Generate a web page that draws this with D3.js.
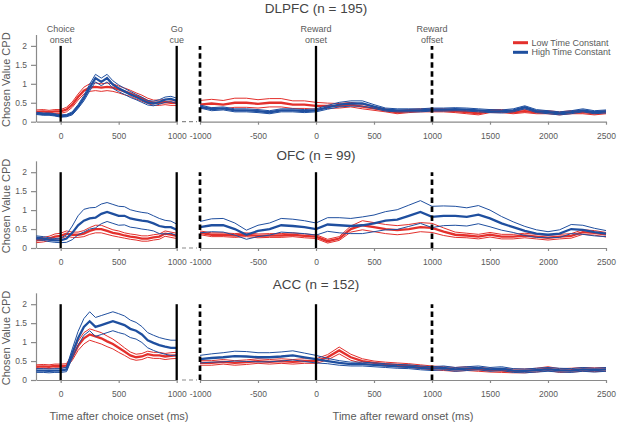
<!DOCTYPE html>
<html>
<head>
<meta charset="utf-8">
<script src="https://cdn.jsdelivr.net/npm/d3@7"></script>
<style>
    body { margin: 0; background: #fff; }
    svg text { font-family: Arial, "Liberation Sans", sans-serif; }
</style>
</head>
<body>
<svg id="chart" width="617" height="424"></svg>
<script>
// Sample times (ms)
const timesChoice = [-210, -150, -100, -50, 0, 50, 100, 150, 200, 250, 300, 350, 400, 450, 500,
    550, 600, 650, 700, 750, 800, 850, 900, 950, 1000];
const timesReward = [-1000, -900, -800, -700, -600, -500, -400, -300, -200, -100, 0,
    100, 200, 300, 400, 500, 600, 700, 800, 900, 1000,
    1100, 1200, 1300, 1400, 1500, 1600, 1700, 1800, 1900, 2000,
    2100, 2200, 2300, 2400, 2500];

const areas = ["DLPFC (n = 195)", "OFC (n = 99)", "ACC (n = 152)"];
const seriesNames = ["Low Time Constant", "High Time Constant"];
const yTicks = [0, 0.5, 1, 1.5, 2];
const choiceTicks = [0, 500, 1000];
const rewardTicks = [-1000, -500, 0, 500, 1000, 1500, 2000, 2500];

// DLPFC, aligned to choice onset
const dlpfcChoiceLow = [.26, .27, .25, .27, .27, .32, .45, .65, .82, .9, .92, .9, .92, .9, .85,
    .8, .75, .68, .62, .55, .5, .5, .52, .5, .5];
const dlpfcChoiceLowSE = [.05, .05, .05, .05, .05, .06, .07, .08, .09, .1, .1, .1, .1, .1, .09,
    .09, .08, .08, .08, .07, .07, .07, .07, .07, .07];
const dlpfcChoiceHigh = [.22, .2, .2, .18, .15, .16, .22, .4, .62, .9, 1.15, 1.05, 1.15, .98, .88,
    .8, .72, .65, .58, .5, .48, .52, .58, .6, .55];
const dlpfcChoiceHighSE = [.03, .03, .03, .03, .03, .03, .04, .05, .07, .09, .1, .1, .1, .1, .09,
    .08, .08, .07, .07, .06, .06, .06, .07, .07, .07];

// DLPFC, aligned to reward onset
const dlpfcRewardLow = [.45, .48, .45, .5, .5, .47, .5, .5, .45, .45, .42,
    .42, .42, .45, .4, .35, .3, .25, .28, .3, .3,
    .3, .28, .25, .22, .28, .28, .25, .28, .25, .25,
    .22, .25, .25, .22, .25];
const dlpfcRewardLowSE = [.11, .11, .11, .12, .12, .11, .11, .11, .1, .1, .09,
    .07, .06, .06, .06, .05, .04, .04, .04, .04, .04,
    .04, .04, .04, .04, .04, .04, .04, .04, .04, .04,
    .04, .04, .04, .04, .04];
const dlpfcRewardHigh = [.4, .33, .35, .3, .3, .28, .25, .3, .3, .28, .3,
    .38, .45, .48, .48, .4, .32, .3, .3, .3, .32,
    .32, .33, .32, .3, .28, .27, .3, .38, .28, .25,
    .22, .25, .3, .25, .27];
const dlpfcRewardHighSE = [.04, .04, .04, .04, .04, .04, .04, .04, .04, .04, .04,
    .05, .06, .07, .07, .05, .04, .04, .04, .04, .04,
    .04, .04, .04, .04, .04, .04, .04, .04, .04, .04,
    .04, .04, .04, .04, .04];

// OFC, aligned to choice onset
const ofcChoiceLow = [.2, .22, .25, .3, .32, .38, .35, .35, .38, .45, .5, .5, .45, .4, .37,
    .33, .3, .28, .25, .25, .28, .3, .38, .35, .32];
const ofcChoiceLowSE = [.06, .06, .06, .07, .07, .07, .07, .07, .08, .09, .1, .1, .09, .08, .08,
    .07, .07, .07, .07, .07, .07, .07, .07, .07, .07];
const ofcChoiceHigh = [.27, .25, .22, .2, .2, .25, .4, .6, .72, .78, .8, .9, .95, .9, .85,
    .85, .78, .75, .72, .7, .65, .58, .55, .55, .48];
const ofcChoiceHighSE = [.05, .05, .05, .05, .06, .1, .18, .25, .3, .28, .27, .26, .25, .25, .25,
    .24, .23, .22, .22, .22, .2, .2, .18, .16, .15];

// OFC, aligned to reward onset
const ofcRewardLow = [.4, .35, .35, .33, .35, .32, .33, .33, .35, .32, .3,
    .18, .25, .5, .6, .55, .5, .47, .5, .55, .53,
    .43, .35, .33, .3, .35, .3, .3, .33, .3, .27,
    .3, .32, .42, .4, .35];
const ofcRewardLowSE = [.05, .05, .05, .05, .05, .05, .05, .05, .05, .05, .05,
    .05, .05, .08, .12, .12, .12, .12, .12, .12, .12,
    .1, .07, .06, .06, .06, .06, .06, .06, .06, .06,
    .06, .06, .06, .06, .06];
const ofcRewardHigh = [.55, .6, .6, .5, .35, .45, .5, .6, .58, .55, .5,
    .62, .6, .58, .6, .65, .72, .75, .85, .95, .82,
    .85, .85, .82, .88, .78, .65, .55, .45, .38, .35,
    .38, .5, .48, .42, .38];
const ofcRewardHighSE = [.15, .17, .18, .16, .12, .15, .16, .18, .18, .17, .16,
    .18, .2, .2, .22, .22, .24, .26, .28, .3, .28,
    .26, .25, .24, .24, .22, .18, .14, .12, .1, .08,
    .1, .12, .12, .1, .08];

// ACC, aligned to choice onset
const accChoiceLow = [.35, .36, .35, .37, .37, .38, .6, .9, 1.1, 1.2, 1.15, 1.1, 1.02, .95, .85,
    .75, .65, .6, .62, .68, .65, .65, .62, .64, .65];
const accChoiceLowSE = [.05, .05, .05, .05, .05, .05, .08, .12, .15, .15, .15, .15, .14, .13, .12,
    .1, .09, .08, .08, .08, .08, .08, .08, .08, .08];
const accChoiceHigh = [.25, .25, .24, .25, .25, .28, .7, 1.1, 1.4, 1.55, 1.4, 1.45, 1.5, 1.55, 1.5,
    1.45, 1.35, 1.3, 1.2, 1.05, .98, .92, .88, .85, .85];
const accChoiceHighSE = [.05, .05, .05, .05, .05, .06, .12, .18, .22, .25, .25, .25, .25, .25, .25,
    .24, .23, .22, .21, .2, .2, .2, .2, .2, .2];

// ACC, aligned to reward onset
const accRewardLow = [.45, .45, .48, .45, .47, .5, .48, .5, .48, .5, .5,
    .6, .78, .6, .5, .45, .42, .4, .38, .35, .32,
    .3, .28, .3, .28, .26, .25, .24, .24, .26, .3,
    .25, .26, .28, .27, .28];
const accRewardLowSE = [.06, .06, .06, .06, .06, .06, .06, .06, .06, .06, .06,
    .07, .09, .08, .06, .05, .05, .05, .05, .05, .05,
    .05, .05, .05, .05, .05, .05, .05, .05, .05, .05,
    .05, .05, .05, .05, .05];
const accRewardHigh = [.55, .58, .6, .63, .62, .6, .6, .62, .65, .6, .55,
    .5, .45, .42, .42, .4, .38, .36, .35, .32, .3,
    .32, .28, .3, .32, .28, .3, .25, .24, .26, .28,
    .26, .25, .28, .26, .28];
const accRewardHighSE = [.1, .11, .12, .13, .13, .12, .12, .12, .12, .11, .1,
    .07, .06, .05, .05, .05, .05, .05, .05, .05, .05,
    .05, .05, .05, .05, .05, .05, .05, .05, .05, .05,
    .05, .05, .05, .05, .05];

const choicePanels = [
    [[dlpfcChoiceLow, dlpfcChoiceLowSE], [dlpfcChoiceHigh, dlpfcChoiceHighSE]],
    [[ofcChoiceLow, ofcChoiceLowSE], [ofcChoiceHigh, ofcChoiceHighSE]],
    [[accChoiceLow, accChoiceLowSE], [accChoiceHigh, accChoiceHighSE]]
];
const rewardPanels = [
    [[dlpfcRewardLow, dlpfcRewardLowSE], [dlpfcRewardHigh, dlpfcRewardHighSE]],
    [[ofcRewardLow, ofcRewardLowSE], [ofcRewardHigh, ofcRewardHighSE]],
    [[accRewardLow, accRewardLowSE], [accRewardHigh, accRewardHighSE]]
];

const colors = ["#e3302c", "#1f4f9f"];
const axisColor = "#8a8a8a";
const textColor = "#5a5a5a";

const svg = d3.select("#chart");

// Layout
const rowZero = [121.7, 248, 380];
const titleY = [12.5, 160, 289];
const pxPerUnit = 37.9;
const yMax = 2.3;

const xChoice = d3.scaleLinear().domain([-210, 1000]).range([36.3, 176.7]);
const xReward = d3.scaleLinear().domain([-1000, 2500]).range([200, 606]);

function styleAxis(g) {
    g.select(".domain").attr("stroke", axisColor).attr("stroke-width", 1.2);
    g.selectAll(".tick line").attr("stroke", axisColor).attr("stroke-width", 1.2);
    g.selectAll(".tick text").attr("fill", textColor).style("font-size", "8.5px");
}

function drawSeries(g, x, y, times, mean, se, color) {
    const line = d3.line()
        .x((d, i) => x(times[i]))
        .y(d => y(d));

    const upper = mean.map((m, i) => m + se[i]);
    const lower = mean.map((m, i) => m - se[i]);

    [upper, lower].forEach(vals => {
        g.append("path")
            .attr("d", line(vals))
            .attr("fill", "none")
            .attr("stroke", color)
            .attr("stroke-width", 1);
    });

    g.append("path")
        .attr("d", line(mean))
        .attr("fill", "none")
        .attr("stroke", color)
        .attr("stroke-width", 2.3);
}

function eventLine(x, y, dashed) {
    svg.append("line")
        .attr("x1", x).attr("x2", x)
        .attr("y1", y(0)).attr("y2", y(2))
        .attr("stroke", "#000")
        .attr("stroke-width", dashed ? 2.7 : 2.3)
        .attr("stroke-dasharray", dashed ? "5.5,3.5" : null);
}

rowZero.forEach((y0, r) => {
    const y = d3.scaleLinear().domain([0, yMax]).range([y0, y0 - yMax * pxPerUnit]);

    // Y axis
    svg.append("g")
        .attr("transform", "translate(36,0)")
        .call(d3.axisLeft(y).tickValues(yTicks).tickSize(5).tickSizeOuter(0).tickPadding(4)
            .tickFormat(d => String(d)))
        .call(styleAxis);

    // X axes
    svg.append("g")
        .attr("transform", `translate(0,${y0})`)
        .call(d3.axisBottom(xChoice).tickValues(choiceTicks).tickSize(3).tickSizeOuter(0).tickPadding(8)
            .tickFormat(d => String(d)))
        .call(styleAxis);

    svg.append("g")
        .attr("transform", `translate(0,${y0})`)
        .call(d3.axisBottom(xReward).tickValues(rewardTicks).tickSize(3).tickSizeOuter(0).tickPadding(8)
            .tickFormat(d => String(d)))
        .call(styleAxis);

    // Dashed link between the two time axes
    svg.append("line")
        .attr("x1", 182).attr("x2", 197)
        .attr("y1", y0).attr("y2", y0)
        .attr("stroke", axisColor)
        .attr("stroke-width", 1.2)
        .attr("stroke-dasharray", "4,3");

    // Y label
    svg.append("text")
        .attr("transform", `translate(9.5,${y0 - 42}) rotate(-90)`)
        .attr("text-anchor", "middle")
        .attr("fill", textColor)
        .style("font-size", "11px")
        .text("Chosen Value CPD");

    // Title
    svg.append("text")
        .attr("x", 316)
        .attr("y", titleY[r])
        .attr("text-anchor", "middle")
        .attr("fill", "#444")
        .style("font-size", "13.5px")
        .text(areas[r]);

    // Data
    const gL = svg.append("g");
    choicePanels[r].forEach((s, k) => drawSeries(gL, xChoice, y, timesChoice, s[0], s[1], colors[k]));
    const gR = svg.append("g");
    rewardPanels[r].forEach((s, k) => drawSeries(gR, xReward, y, timesReward, s[0], s[1], colors[k]));

    // Event markers
    eventLine(xChoice(0), y, false);
    eventLine(xChoice(1000), y, false);
    eventLine(xReward(-1000), y, true);
    eventLine(xReward(0), y, false);
    eventLine(xReward(1000), y, true);
});

// Event labels on the top row
const eventLabels = [
    [xChoice(0), "Choice", "onset"],
    [xChoice(1000), "Go", "cue"],
    [xReward(0), "Reward", "onset"],
    [xReward(1000), "Reward", "offset"]
];
eventLabels.forEach(([x, a, b]) => {
    const t = svg.append("text")
        .attr("text-anchor", "middle")
        .attr("fill", textColor)
        .style("font-size", "9px");
    t.append("tspan").attr("x", x).attr("y", 31.5).text(a);
    t.append("tspan").attr("x", x).attr("y", 42.5).text(b);
});

// Legend
const legend = svg.append("g").attr("transform", "translate(513,42.7)");
seriesNames.forEach((name, i) => {
    legend.append("line")
        .attr("x1", 0).attr("x2", 15)
        .attr("y1", i * 9.6).attr("y2", i * 9.6)
        .attr("stroke", colors[i])
        .attr("stroke-width", 3);
    legend.append("text")
        .attr("x", 18.5)
        .attr("y", i * 9.6 + 3.2)
        .attr("fill", textColor)
        .style("font-size", "9px")
        .text(name);
});

// X labels
svg.append("text")
    .attr("x", 119).attr("y", 420)
    .attr("text-anchor", "middle")
    .attr("fill", textColor)
    .style("font-size", "11px")
    .text("Time after choice onset (ms)");

svg.append("text")
    .attr("x", 403).attr("y", 420)
    .attr("text-anchor", "middle")
    .attr("fill", textColor)
    .style("font-size", "11px")
    .text("Time after reward onset (ms)");
</script>
</body>
</html>
